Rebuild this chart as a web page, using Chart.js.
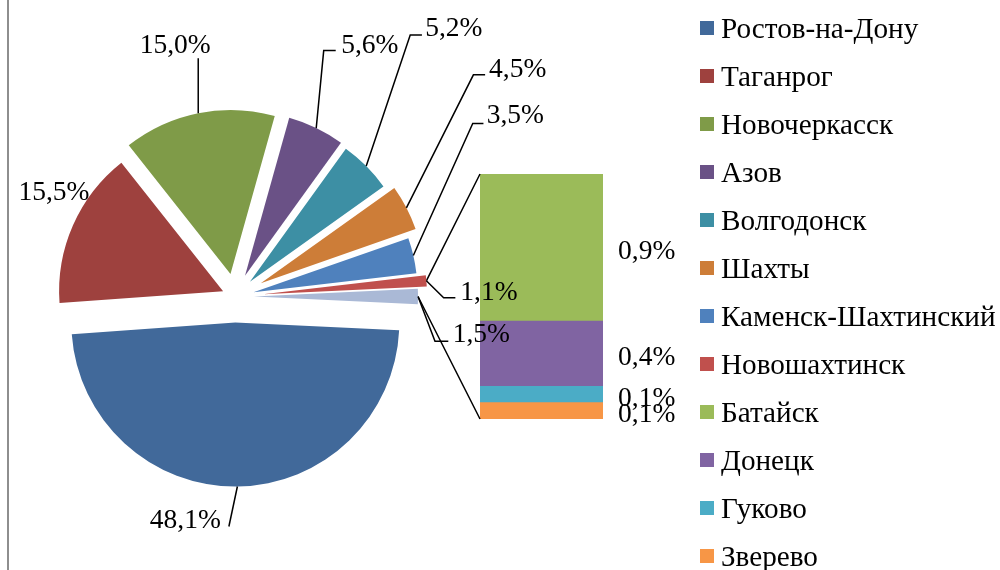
<!DOCTYPE html>
<html><head><meta charset="utf-8">
<script src="https://cdn.jsdelivr.net/npm/chart.js@4.4.1/dist/chart.umd.min.js"></script>
<style>
html,body{margin:0;padding:0;background:#fff;}
#wrap{position:relative;width:1000px;height:570px;overflow:hidden;background:#fff;}
#wrap canvas{position:absolute;left:0;top:0;}
</style></head><body>
<div id="wrap"><canvas id="bar" width="1000" height="570"></canvas><canvas id="pie" width="1000" height="570"></canvas></div>
<script>
// ---- data ----
const pieCategories = ['Ростов-на-Дону','Таганрог','Новочеркасск','Азов','Волгодонск','Шахты','Каменск-Шахтинский','Новошахтинск'];
const pieValues = [48.1, 15.5, 15.0, 5.6, 5.2, 4.5, 3.5, 1.1];
const otherLabel = 'Прочие';
const barCategories = ['Батайск','Донецк','Гуково','Зверево'];
const barValues = [0.9, 0.4, 0.1, 0.1];

// ---- styles ----
const pieColors = ['#41699A','#9E413E','#7F9B48','#6A5186','#3D8FA4','#CD7D38','#4F81BD','#C0504D'];
const otherColor = '#AAB9D6';
const barColors = ['#9BBB59','#8064A2','#4BACC6','#F79646'];
const explode = [26, 13, 23, 23, 21, 29, 19, 28, 19];
const FONT = '27.5px "Liberation Serif"';
const LEGEND_FONT = '29.2px "Liberation Serif"';
const labelLayout = [
  {leader:[[-8.5,40]], dx:-16.5, dy:41.6, align:'right'},
  {leader:[], dx:-19, dy:-25, align:'center'},
  {leader:[[0,-55]], dx:-23, dy:-60, align:'center'},
  {leader:[[7.5,-77.5],[19.5,-77.5]], dx:25, dy:-75.5, align:'left'},
  {leader:[[44,-131],[55.7,-131]], dx:59, dy:-130, align:'left'},
  {leader:[[67,-133],[78.7,-133]], dx:82.7, dy:-131.3, align:'left'},
  {leader:[[59.4,-132],[70.1,-132]], dx:73.4, dy:-132, align:'left'},
  {leader:[[17.3,17],[29,17]], dx:34, dy:18.7, align:'left'},
  {leader:[[17,44.7],[30.3,44.7]], dx:34.7, dy:45.7, align:'left'}
];

const otherValue = barValues.reduce((a,b)=>a+b,0);
const allPieValues = pieValues.concat([otherValue]);
const total = allPieValues.reduce((a,b)=>a+b,0);
const rotation = 90 + (otherValue/total)*180;

function fmt(v){ return v.toFixed(1).replace('.', ',') + '%'; }
function anchorOf(arc){
  const mid=(arc.startAngle+arc.endAngle)/2;
  return {x: arc.x+Math.cos(mid)*arc.outerRadius, y: arc.y+Math.sin(mid)*arc.outerRadius};
}

let pieChart;
function build(){
const explodePlugin = {
  id:'explode',
  afterDatasetsUpdate(chart){
    const meta = chart.getDatasetMeta(0);
    meta.data.forEach((arc,i)=>{
      const mid=(arc.startAngle+arc.endAngle)/2;
      const d=explode[i]||0;
      arc.x += Math.cos(mid)*d;
      arc.y += Math.sin(mid)*d;
    });
  }
};

const pieLabelPlugin = {
  id:'pieLabels',
  afterDatasetsDraw(chart){
    const ctx=chart.ctx;
    const meta=chart.getDatasetMeta(0);
    ctx.save();
    ctx.font=FONT; ctx.fillStyle='#000'; ctx.strokeStyle='#000'; ctx.lineWidth=1.5;
    ctx.textBaseline='alphabetic';
    meta.data.forEach((arc,i)=>{
      const a=anchorOf(arc); const L=labelLayout[i];
      if(L.leader.length){
        ctx.beginPath(); ctx.moveTo(a.x,a.y);
        L.leader.forEach(p=>ctx.lineTo(a.x+p[0],a.y+p[1]));
        ctx.stroke();
      }
      ctx.textAlign=L.align;
      ctx.fillText(fmt(allPieValues[i]), a.x+L.dx, a.y+L.dy);
    });
    ctx.restore();
  },
  afterDraw(chart){
    const ctx=chart.ctx;
    ctx.save();
    ctx.strokeStyle='#8E8E8E'; ctx.lineWidth=2;
    ctx.beginPath(); ctx.moveTo(8,0); ctx.lineTo(8,570); ctx.stroke();
    const names=pieCategories.concat(barCategories);
    const cols=pieColors.concat(barColors);
    ctx.font=LEGEND_FONT; ctx.textBaseline='alphabetic'; ctx.textAlign='left';
    names.forEach((n,i)=>{
      const y=21+i*48;
      ctx.fillStyle=cols[i]; ctx.fillRect(700,y,14,14);
      ctx.fillStyle='#000'; ctx.fillText(n,721,y+16.9);
    });
    ctx.restore();
  }
};

pieChart = new Chart(document.getElementById('pie'), {
  type:'pie',
  data:{labels: pieCategories.concat([otherLabel]), datasets:[{data: allPieValues, backgroundColor: pieColors.concat([otherColor]), borderWidth:0}]},
  options:{
    responsive:false, animation:false, events:[], devicePixelRatio:1,
    radius:164, rotation: rotation,
    layout:{padding:{left:0,right:530,top:23,bottom:0}},
    plugins:{legend:{display:false}, tooltip:{enabled:false}}
  },
  plugins:[explodePlugin, pieLabelPlugin]
});

const barLabelPlugin = {
  id:'barLabels',
  afterDatasetsDraw(chart){
    const ctx=chart.ctx;
    ctx.save();
    ctx.font=FONT; ctx.fillStyle='#000'; ctx.textAlign='left'; ctx.textBaseline='alphabetic';
    chart.data.datasets.forEach((ds,di)=>{
      const el=chart.getDatasetMeta(di).data[0];
      const cy=(el.y+el.base)/2;
      ctx.fillText(fmt(ds.data[0]), el.x+el.width/2+15, cy+11);
    });
    const n=chart.data.datasets.length;
    const topEl=chart.getDatasetMeta(n-1).data[0];
    const botEl=chart.getDatasetMeta(0).data[0];
    const arcs=pieChart.getDatasetMeta(0).data;
    const aTop=anchorOf(arcs[arcs.length-2]);
    const aBot=anchorOf(arcs[arcs.length-1]);
    ctx.strokeStyle='#000'; ctx.lineWidth=1.5;
    ctx.beginPath();
    ctx.moveTo(aTop.x,aTop.y); ctx.lineTo(topEl.x-topEl.width/2, topEl.y);
    ctx.moveTo(aBot.x,aBot.y); ctx.lineTo(botEl.x-botEl.width/2, botEl.base);
    ctx.stroke();
    ctx.restore();
  }
};

const barDatasets = barCategories.map((c,i)=>({
  label:c, data:[barValues[i]], backgroundColor:barColors[i], borderWidth:0,
  categoryPercentage:1, barPercentage:1
})).reverse();

new Chart(document.getElementById('bar'), {
  type:'bar',
  data:{labels:[''], datasets: barDatasets},
  options:{
    responsive:false, animation:false, events:[], devicePixelRatio:1,
    layout:{padding:{left:480,right:397,top:174,bottom:151}},
    scales:{
      x:{display:false, stacked:true},
      y:{display:false, stacked:true, min:0, max:otherValue}
    },
    plugins:{legend:{display:false}, tooltip:{enabled:false}}
  },
  plugins:[barLabelPlugin]
});
}
document.fonts.load(FONT).then(build, build);
</script>
</body></html>
